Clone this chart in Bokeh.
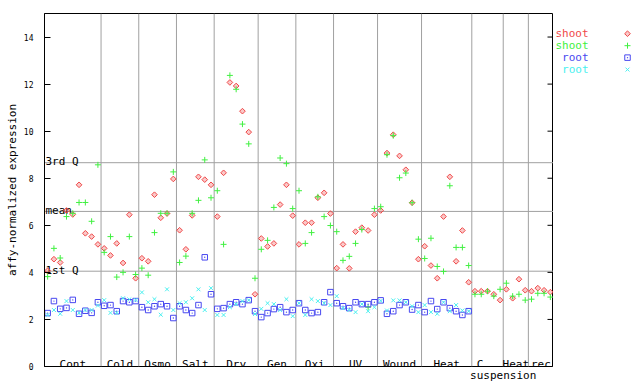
import numpy as np
from bokeh.plotting import figure
from bokeh.models import Range1d, FixedTicker, Span, ColumnDataSource
from bokeh.layouts import row
from bokeh.embed import file_html
from bokeh.resources import INLINE
from bokeh.core.properties import value

nan = float("nan")

# ---------------- data ----------------
categories = ["Cont", "Cold", "Osmo", "Salt", "Dry", "Gen", "Oxi", "UV",
              "Wound", "Heat", "C suspension", "Heat", "rec"]
counts = [9, 6, 6, 6, 7, 6, 6, 7, 7, 8, 5, 4, 4]

shoot_1 = [4.07, 4.56, 4.42, 6.63, 6.46, 7.72, 5.66, 5.52, 5.19,
           5.02, 4.72, 5.23, 4.40, 6.45, 3.75,
           4.60, 4.47, 7.30, 6.32, 6.50, 7.97,
           5.79, 4.98, 6.42, 8.06, 7.94, 7.72,
           6.37, 8.23, 12.07, 11.92, 10.85, 9.96, 3.07,
           5.44, 5.10, 5.23, 6.88, 7.72, 6.41,
           5.19, 6.11, 6.11, 7.17, 7.38, 6.50,
           4.18, 5.19, 4.17, 5.73, 5.90, 5.78, 6.45,
           6.63, 9.07, 9.85, 8.95, 8.36, 6.96, 4.56,
           5.11, 4.29, 3.75, 6.37, 8.06, 4.47, 5.78, 3.58,
           3.20, 3.20, 3.20, 3.07, 2.82,
           3.28, 2.90, 3.71, 3.24,
           3.20, 3.33, 3.24, 3.16]

shoot_2 = [3.82, 5.02, 4.61, 6.37, 6.51, 6.97, 6.97, 6.17, 8.57,
           4.85, 5.52, 3.80, 4.00, 5.52, 3.91,
           4.18, 3.88, 5.69, 6.51, 6.51, 8.27,
           4.42, 4.69, 6.51, 7.06, 8.78, 7.17,
           7.47, 5.19, 12.37, 11.78, 10.30, 9.46, 3.75,
           4.98, 5.36, 6.76, 8.86, 8.62, 6.71,
           7.47, 5.23, 5.69, 7.21, 6.37, 5.99,
           5.73, 4.51, 4.68, 5.23, 5.82, 2.52, 6.71,
           6.79, 9.00, 9.81, 8.02, 8.22, 6.96, 5.41,
           4.59, 5.45, 4.25, 4.04, 7.68, 5.06, 5.06, 4.29,
           3.07, 3.07, 3.20, 2.99, 3.28,
           3.54, 2.99, 3.07, 2.82,
           2.86, 3.11, 3.11, 2.95]

root_1 = [2.27, 2.78, 2.45, 2.49, 2.83, 2.24, 2.37, 2.28, 2.73,
          2.58, 2.61, 2.35, 2.78, 2.73, 2.78,
          2.52, 2.40, 2.56, 2.65, 2.56, 2.06,
          2.56, 2.40, 2.27, 2.61, 4.64, 3.07,
          2.45, 2.48, 2.65, 2.73, 2.65, 2.82, 2.35,
          2.10, 2.27, 2.44, 2.52, 2.31, 2.40,
          2.69, 2.40, 2.27, 2.31, 2.73, 3.16,
          2.69, 2.56, 2.48, 2.73, 2.65, 2.65, 2.73,
          2.81, 2.24, 2.35, 2.61, 2.73, 2.42, 2.61,
          2.31, 2.78, 2.44, 2.73, 2.48, 2.35, 2.19, 2.35,
          nan, nan, nan, nan, nan,
          nan, nan, nan, nan,
          nan, nan, nan, nan]

root_2 = [2.19, 2.40, 2.24, 2.78, 2.40, 2.28, 2.40, 2.40, 2.59,
          2.82, 2.28, 2.28, 2.90, 2.85, 2.83,
          3.15, 2.73, 2.86, 2.20, 3.28, 2.40,
          2.69, 2.73, 2.90, 3.28, 2.40, 3.33,
          2.19, 2.19, 2.52, 2.65, 2.78, 2.82, 2.23,
          2.45, 2.69, 2.65, 2.40, 2.86, 2.14,
          2.69, 2.19, 2.86, 2.78, 2.69, 2.61,
          2.99, 2.48, 2.40, 2.31, 2.65, 2.35, 2.52,
          2.79, 2.38, 2.81, 2.81, 2.73, 2.56, 2.31,
          2.61, 2.31, 2.24, 2.73, 2.35, 2.61, 2.38, 2.35,
          nan, nan, nan, nan, nan,
          nan, nan, nan, nan,
          nan, nan, nan, nan]

quantile_values = [8.66, 6.59, 4.05]
quantile_labels = ["3rd Q", "mean", "1st Q"]
yticks = [0, 2, 4, 6, 8, 10, 12, 14]
legend_labels = ["shoot", "shoot", "root", "root"]

# ---------------- style ----------------
FONT = "DejaVu Sans Mono"
RED = "#f04848"
GREEN = "#40f040"
BLUE = "#4848f0"
CYAN = "#48f0f0"
GRID = "#a0a0a0"

N = len(shoot_1)
xs = list(range(1, N + 1))
W_TOTAL, H = 640, 384
W_MAIN = 553
BL, BR, BT, BB = 44, 0, 13, 15
frame_w = W_MAIN - BL - BR

p = figure(width=W_MAIN, height=H, output_backend="svg", toolbar_location=None,
           x_range=Range1d(0.5, N + 0.5), y_range=Range1d(0, 15),
           min_border_left=BL, min_border_right=BR, min_border_top=BT,
           min_border_bottom=BB, x_axis_location="below",
           y_axis_location="left")
p.grid.grid_line_color = None
p.outline_line_color = "black"
p.outline_line_alpha = 1.0
p.outline_line_width = 1
p.background_fill_color = "white"
p.border_fill_color = "white"

ya = p.yaxis[0]
ya.ticker = FixedTicker(ticks=yticks)
ya.major_tick_in = 6
ya.major_tick_out = 0
ya.minor_tick_line_color = None
ya.axis_line_color = "black"
ya.major_tick_line_color = "black"
ya.major_label_text_font = FONT
ya.major_label_text_font_size = "8px"
ya.major_label_text_color = "black"
ya.major_label_standoff = 11
ya.axis_label = "affy-normalized expression"
ya.axis_label_text_font = FONT
ya.axis_label_text_font_size = "11px"
ya.axis_label_text_font_style = "normal"
ya.axis_label_text_color = "black"
ya.axis_label_standoff = 2

# category separators and quantile lines
bounds = list(np.cumsum(counts) + 0.5)
for b in bounds[:-1]:
    p.add_layout(Span(location=b, dimension="height", line_color=GRID,
                      line_width=1, level="underlay"))
for v in quantile_values:
    p.add_layout(Span(location=v, dimension="width", line_color=GRID,
                      line_width=1, level="underlay"))

# bottom axis only carries the second line of the "C suspension" label
susp_idx = categories.index("C suspension")
xa = p.xaxis[0]
xa.ticker = FixedTicker(ticks=[bounds[susp_idx]])
xa.major_label_overrides = {bounds[susp_idx]: "suspension"}
xa.axis_line_color = None
xa.major_tick_line_color = None
xa.minor_tick_line_color = None
xa.major_tick_in = 0
xa.major_tick_out = 0
xa.major_label_standoff = 2
xa.major_label_text_font = FONT
xa.major_label_text_font_size = "11px"
xa.major_label_text_color = "black"

# right-side mirror ticks
x_end = N + 0.5
tick_len = 6 * N / frame_w
tsrc = ColumnDataSource(dict(x0=[x_end - tick_len] * len(yticks),
                             x1=[x_end] * len(yticks), y=yticks))
p.segment(x0="x0", y0="y", x1="x1", y1="y", source=tsrc,
          line_color="black", line_width=1)

# quantile labels
p.text(x=[0.5] * 3, y=quantile_values, text=quantile_labels, x_offset=1,
       y_offset=-1, text_font=value(FONT), text_font_size="11px",
       text_color="black", text_align="left", text_baseline="alphabetic")

# category labels
centers = [b - c / 2.0 for b, c in zip(bounds, counts)]
cat_text = []
cat_x = []
for name, cx in zip(categories, centers):
    if name == "C suspension":
        cat_text.append("C")
        cat_x.append(cx - 1.2)
    else:
        cat_text.append(name)
        cat_x.append(cx)
p.text(x=cat_x, y=[0] * len(cat_x), text=cat_text, y_offset=-2,
       text_font=value(FONT), text_font_size="11px", text_color="black",
       text_align="center", text_baseline="alphabetic")

# data points
p.scatter(xs, shoot_1, marker="square", angle=np.pi / 4, size=4,
          line_color=RED, fill_color=RED, fill_alpha=0.3, line_width=1)
p.scatter(xs, shoot_2, marker="cross", size=6, line_color=GREEN, line_width=1)
p.scatter(xs, root_1, marker="square_dot", size=5.5, line_color=BLUE,
          fill_color=None, line_width=1)
p.scatter(xs, root_2, marker="x", size=5.5, line_color=CYAN, line_width=1)

# ---------------- legend panel ----------------
W_LEG = W_TOTAL - W_MAIN
lg = figure(width=W_LEG, height=H, output_backend="svg", toolbar_location=None,
            x_range=Range1d(0, W_LEG), y_range=Range1d(H, 0), min_border=0,
            x_axis_location=None, y_axis_location=None)
lg.grid.grid_line_color = None
lg.outline_line_color = None
lg.background_fill_color = "white"
lg.border_fill_color = "white"

leg_y = [22, 35, 48, 61]
leg_colors = [RED, GREEN, BLUE, CYAN]
lg.text(x=[35] * 4, y=leg_y, text=legend_labels, text_color=leg_colors,
        text_font=value(FONT), text_font_size="11px", text_align="right",
        text_baseline="middle")
mx = 74
lg.scatter([mx], [leg_y[0]], marker="square", angle=np.pi / 4, size=4,
           line_color=RED, fill_color=RED, fill_alpha=0.3)
lg.scatter([mx], [leg_y[1]], marker="cross", size=6, line_color=GREEN)
lg.scatter([mx], [leg_y[2]], marker="square_dot", size=5.5, line_color=BLUE,
           fill_color=None)
lg.scatter([mx], [leg_y[3]], marker="x", size=5.5, line_color=CYAN)

layout = row(p, lg, spacing=0)
open("out.html", "w").write(file_html(layout, INLINE))
